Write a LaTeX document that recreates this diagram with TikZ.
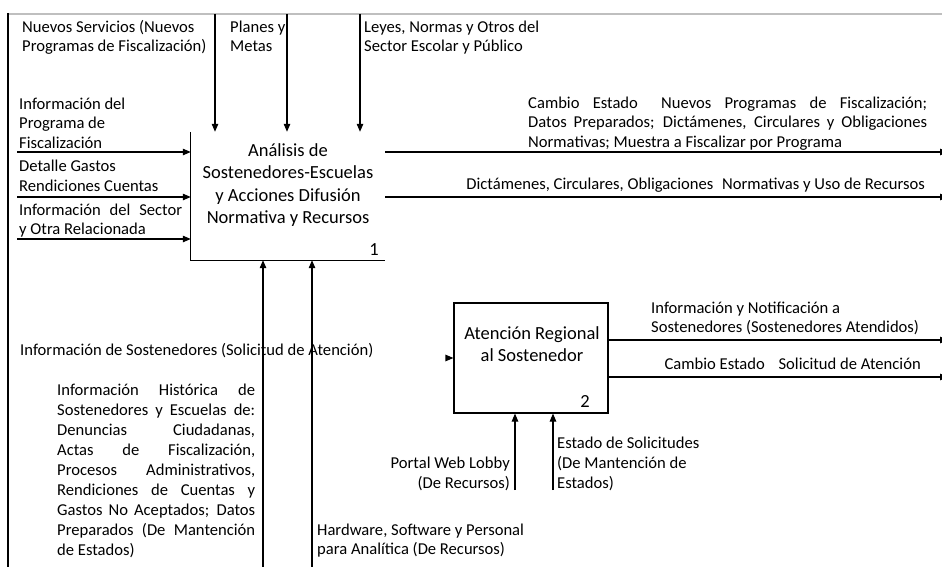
\documentclass[tikz,border=0pt]{standalone}
\usepackage{fontspec}
\setmainfont{Carlito}
\usetikzlibrary{arrows.meta}
\begin{document}
\begin{tikzpicture}[x=1pt,y=-1pt,
  flow/.style={line width=1.1pt,-{Triangle[length=8pt,width=6.5pt]}},
  edge/.style={line width=1.1pt},
  lbl/.style={font=\fontsize{16.6}{19.5}\selectfont, inner sep=0pt, align=left},
  lblr/.style={font=\fontsize{16.6}{19.5}\selectfont, inner sep=0pt, align=right},
  lblwide/.style={font=\fontsize{16.6}{20}\selectfont, inner sep=0pt, align=left},
  boxtxt/.style={font=\fontsize{18.5}{22.5}\selectfont, inner sep=0pt, align=center},
  procbox/.style={inner sep=0pt, minimum width=#1},
]
\useasboundingbox (0,0) rectangle (942,567);

% outer frame
\coordinate (fa) at (7,14);
\coordinate (fb) at (942,14);
\coordinate (fc) at (8,567);
\draw[black!25, line width=2pt] (fa) -- (fb);
\draw[line width=1.3pt] (8,13) -- (fc);

% activity 1 (multi-line nodes are anchored on the baseline of their last line)
\node[procbox=194pt, minimum height=128pt] (A1) at (288,196) {};
\draw[edge] (A1.north west) -- (A1.south west) -- (A1.south east);
\node[boxtxt, anchor=base] (A1txt) at (288,223.5) {Análisis de\\Sostenedores-Escuelas\\y Acciones Difusión\\Normativa y Recursos};
\node[boxtxt, anchor=base east] (A1num) at (379,255) {1};

% activity 2
\node[procbox=154pt, minimum height=110pt, draw, line width=1.1pt] (A2) at (531,358) {};
\node[boxtxt, anchor=base] (A2txt) at (532,361.5) {Atención Regional\\al Sostenedor};
\node[boxtxt, anchor=base east] (A2num) at (590,407.5) {2};

% controls from the top
\coordinate (s1) at (215,14);
\coordinate (s2) at (287,14);
\coordinate (s3) at (360,14);
\foreach \c in {s1,s2,s3} \draw[flow] (\c) -- (\c |- A1.north);
\node[lbl, anchor=base west] (T1) at (22,52) {Nuevos Servicios (Nuevos\\Programas de Fiscalización)};
\node[lbl, anchor=base west] (T2) at (230,52) {Planes y\\Metas};
\node[lbl, anchor=base west] (T3) at (364,52) {Leyes, Normas y Otros del\\Sector Escolar y Público};

% inputs of activity 1
\coordinate (i1) at (17,152);
\coordinate (i2) at (17,197);
\coordinate (i3) at (17,239);
\foreach \c in {i1,i2,i3} \draw[flow] (\c) -- (\c -| A1.west);
\node[lbl, anchor=base west] (L1) at (19,148) {Información del\\Programa de\\Fiscalización};
\node[lbl, anchor=base west] (L2) at (19,191) {Detalle Gastos\\Rendiciones Cuentas};
\node[lbl, anchor=base west] (L3) at (19,234.5) {\makebox[163pt][s]{Información del Sector}\\y Otra Relacionada};

% outputs of activity 1
\coordinate (o1) at (948,152);
\coordinate (o2) at (948,197);
\draw[flow] (o1 -| A1.east) -- (o1);
\draw[flow] (o2 -| A1.east) -- (o2);
\node[lbl, anchor=base west] (O1) at (528,147) {\makebox[399pt][s]{Cambio Estado\hspace{0.6em} Nuevos Programas de Fiscalización;}\\\makebox[399pt][s]{Datos Preparados; Dictámenes, Circulares y Obligaciones}\\Normativas; Muestra a Fiscalizar por Programa};
\node[lbl, anchor=base east] (O2) at (925,189) {Dictámenes, Circulares, Obligaciones\hspace{0.3em} Normativas y Uso de Recursos};

% mechanisms of activity 1
\coordinate (m1) at (263,567);
\coordinate (m2) at (312,567);
\draw[flow] (m1) -- (m1 |- A1.south);
\draw[flow] (m2) -- (m2 |- A1.south);
\node[lblwide, anchor=base west] (M1) at (57,555) {\makebox[198pt][s]{Información Histórica de}\\\makebox[198pt][s]{Sostenedores y Escuelas de:}\\\makebox[198pt][s]{Denuncias Ciudadanas,}\\\makebox[198pt][s]{Actas de Fiscalización,}\\\makebox[198pt][s]{Procesos Administrativos,}\\\makebox[198pt][s]{Rendiciones de Cuentas y}\\\makebox[198pt][s]{Gastos No Aceptados; Datos}\\\makebox[198pt][s]{Preparados (De Mantención}\\de Estados)};
\node[lbl, anchor=base west] (M2) at (317,554.5) {Hardware, Software y Personal\\para Analítica (De Recursos)};

% input of activity 2
\node[lbl, anchor=base west] (I2) at (20,355) {Información de Sostenedores (Solicitud de Atención)};
\coordinate (j1) at (446,358);
\draw[flow] (j1) -- (j1 -| A2.west);

% outputs of activity 2
\coordinate (p1) at (948,340);
\coordinate (p2) at (948,377);
\draw[flow] (p1 -| A2.east) -- (p1);
\draw[flow] (p2 -| A2.east) -- (p2);
\node[lbl, anchor=base west] (P1) at (651,332.5) {Información y Notificación a\\Sostenedores (Sostenedores Atendidos)};
\node[lbl, anchor=base east] (P2) at (921,369) {Cambio Estado\hspace{0.6em} Solicitud de Atención};

% mechanisms of activity 2
\coordinate (q1) at (515,490);
\coordinate (q2) at (553,490);
\draw[flow] (q1) -- (q1 |- A2.south);
\draw[flow] (q2) -- (q2 |- A2.south);
\node[lblr, anchor=base east] (Q1) at (510,488) {Portal Web Lobby\\(De Recursos)};
\node[lblwide, anchor=base west] (Q2) at (557,488) {Estado de Solicitudes\\(De Mantención de\\Estados)};
\end{tikzpicture}
\end{document}
